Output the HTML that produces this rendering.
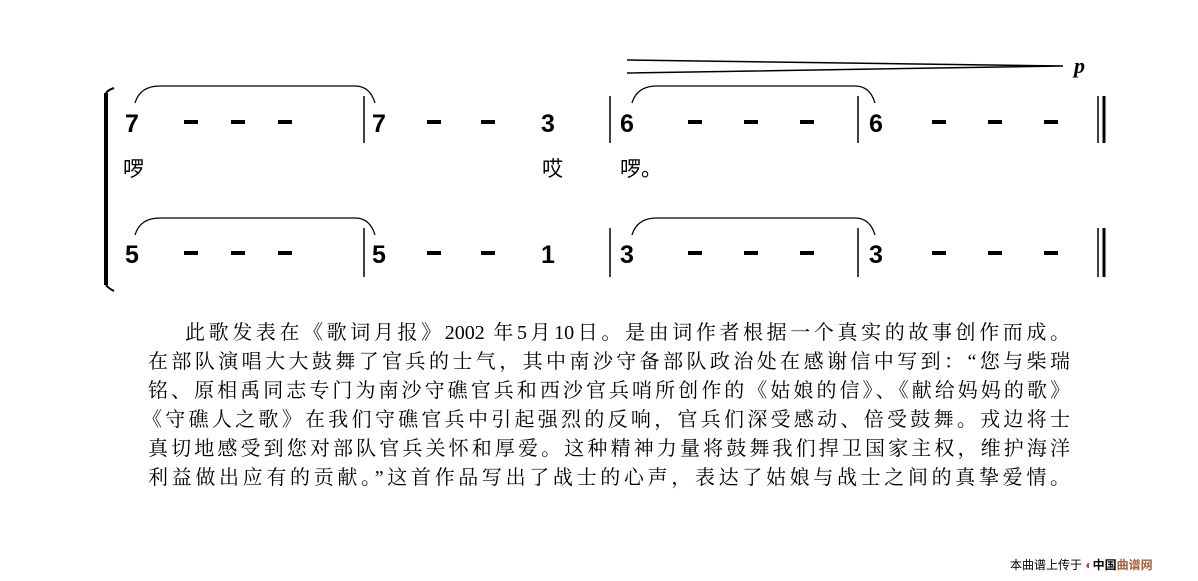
<!DOCTYPE html>
<html><head><meta charset="utf-8"><style>
body{margin:0;width:1198px;height:581px;background:#fff;position:relative;overflow:hidden}
svg{position:absolute;left:0;top:0}
.l{position:absolute;left:148px;width:922px;font:20px "Liberation Serif","Noto Serif CJK SC",serif;text-align:justify;text-align-last:justify;white-space:nowrap;line-height:26px;color:#000}
.ft{position:absolute;left:1010px;top:556px;font:12px "Liberation Sans","Noto Sans CJK SC",sans-serif;color:#000}
</style></head><body>
<svg width="1198" height="581" xmlns="http://www.w3.org/2000/svg">
<g stroke="#000" fill="none">
<path d="M106 93 V285" stroke-width="4"/>
<path d="M106 93 Q108 90 114 88 M106 285 Q108 288 114 291" stroke-width="2"/>
<path d="M364 96V143 M610 96V143 M858 96V143 M1098 96V143" stroke-width="1.5"/>
<path d="M1104 96V143 M1104 228V277" stroke-width="3"/>
<path d="M364 228V277 M610 228V277 M858 228V277 M1098 228V277" stroke-width="1.5"/>
<path d="M135 103 Q140 86 160 86 H355 Q370 86 375 103" stroke-width="1.3"/>
<path d="M135 235 Q140 218 160 218 H355 Q370 218 375 235" stroke-width="1.3"/>
<path d="M632 103 Q637 86 657 86 H855 Q870 86 875 103" stroke-width="1.3"/>
<path d="M632 235 Q637 218 657 218 H855 Q870 218 875 235" stroke-width="1.3"/>
<path d="M627 60 L1063 66 L627 73" stroke-width="1.5"/>
</g>
<g fill="#000">
<rect x="184" y="120" width="14" height="4"/><rect x="231" y="120" width="14" height="4"/><rect x="278" y="120" width="14" height="4"/>
<rect x="427" y="120" width="14" height="4"/><rect x="481" y="120" width="14" height="4"/>
<rect x="688" y="120" width="14" height="4"/><rect x="744" y="120" width="14" height="4"/><rect x="800" y="120" width="14" height="4"/>
<rect x="932" y="120" width="14" height="4"/><rect x="988" y="120" width="14" height="4"/><rect x="1044" y="120" width="14" height="4"/>
<rect x="184" y="251" width="14" height="4"/><rect x="231" y="251" width="14" height="4"/><rect x="278" y="251" width="14" height="4"/>
<rect x="427" y="251" width="14" height="4"/><rect x="481" y="251" width="14" height="4"/>
<rect x="688" y="251" width="14" height="4"/><rect x="744" y="251" width="14" height="4"/><rect x="800" y="251" width="14" height="4"/>
<rect x="932" y="251" width="14" height="4"/><rect x="988" y="251" width="14" height="4"/><rect x="1044" y="251" width="14" height="4"/>
</g>
<g font-family="Liberation Sans, sans-serif" font-weight="bold" font-size="25">
<text x="125" y="132">7</text><text x="372" y="132">7</text><text x="541" y="132">3</text><text x="620" y="132">6</text><text x="869" y="132">6</text>
<text x="125" y="263">5</text><text x="372" y="263">5</text><text x="541" y="263">1</text><text x="620" y="263">3</text><text x="869" y="263">3</text>
</g>
<text x="1074" y="73" font-family="Liberation Serif, serif" font-weight="bold" font-style="italic" font-size="22">p</text>
<g font-family="Liberation Sans, Noto Sans CJK SC, sans-serif" font-size="21">
<text x="123" y="176">啰</text><text x="542" y="176">哎</text><text x="620" y="176">啰。</text>
</g>
</svg>
<div class="l" style="top:320px;left:185px;width:885px">此歌发表在《歌词月报》2002 年5月10日。是由词作者根据一个真实的故事创作而成。</div>
<div class="l" style="top:349px">在部队演唱大大鼓舞了官兵的士气，其中南沙守备部队政治处在感谢信中写到：“您与柴瑞</div>
<div class="l" style="top:378px">铭、原相禹同志专门为南沙守礁官兵和西沙官兵哨所创作的《姑娘的信》、《献给妈妈的歌》</div>
<div class="l" style="top:407px;left:142px;width:928px">《守礁人之歌》在我们守礁官兵中引起强烈的反响，官兵们深受感动、倍受鼓舞。戎边将士</div>
<div class="l" style="top:436px">真切地感受到您对部队官兵关怀和厚爱。这种精神力量将鼓舞我们捍卫国家主权，维护海洋</div>
<div class="l" style="top:465px">利益做出应有的贡献。”这首作品写出了战士的心声，表达了姑娘与战士之间的真挚爱情。</div>
<div class="ft">本曲谱上传于 <span style="color:#c33;font-weight:bold">◐</span><b style="color:#000">中国</b><b style="color:#a06040">曲谱网</b></div>
</body></html>
